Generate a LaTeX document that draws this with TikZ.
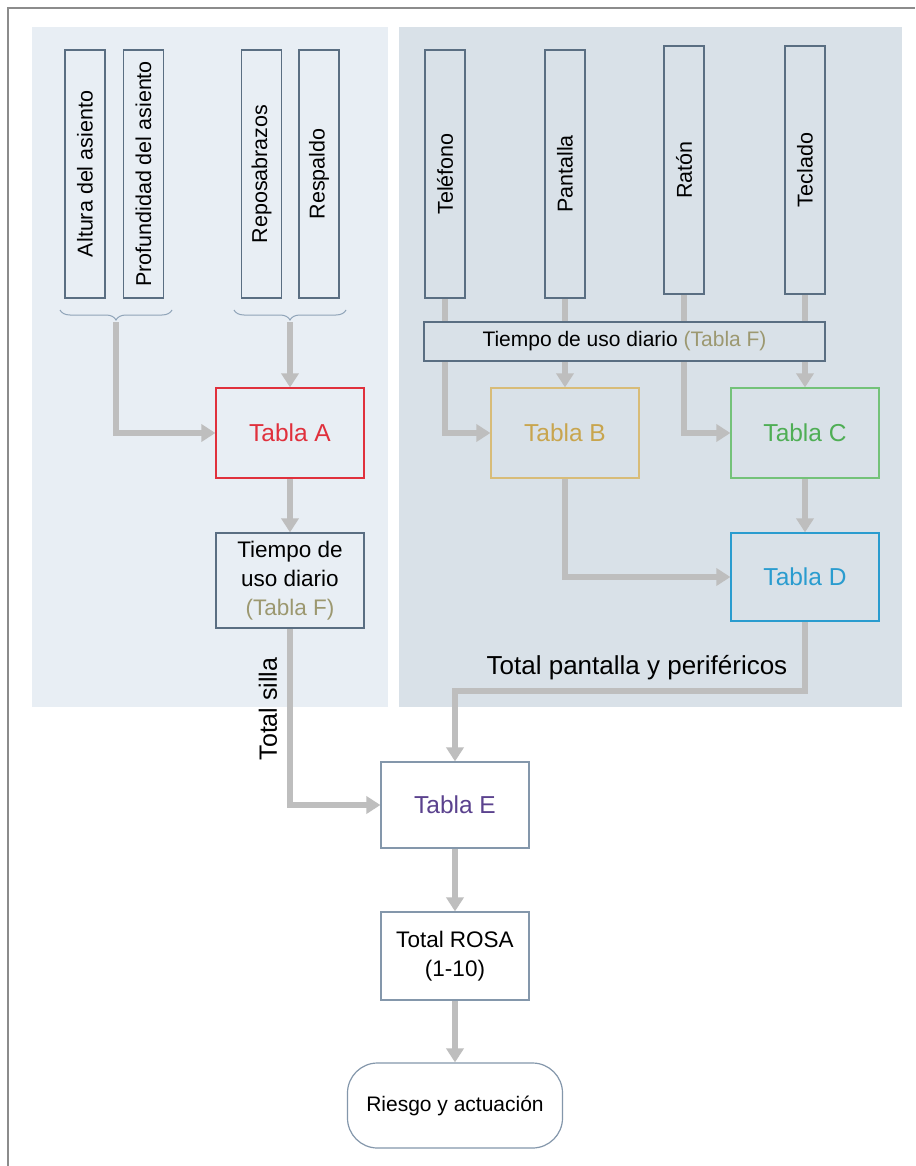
\documentclass[tikz,border=0pt]{standalone}
\usepackage{fontspec}
\setmainfont{Liberation Sans}
\usetikzlibrary{arrows.meta,decorations.pathreplacing,calc}
\pgfdeclarelayer{panel}
\pgfdeclarelayer{conn}
\pgfsetlayers{panel,conn,main}
\definecolor{panelL}{HTML}{E8EEF4}
\definecolor{panelR}{HTML}{D9E1E8}
\definecolor{boxline}{HTML}{5A6E82}
\definecolor{arrowgray}{HTML}{BEBEBE}
\definecolor{redA}{HTML}{E0303C}
\definecolor{goldB}{HTML}{C8A54E}
\definecolor{goldBline}{HTML}{D8BC78}
\definecolor{greenC}{HTML}{4FAE55}
\definecolor{greenCline}{HTML}{74C279}
\definecolor{blueD}{HTML}{2A9CCF}
\definecolor{purpleE}{HTML}{5B428E}
\definecolor{oliveF}{HTML}{9C9870}
\definecolor{softline}{HTML}{8497AB}
\definecolor{bracecol}{HTML}{8FA4B8}
\tikzset{
  x=1pt, y=-1pt,
  vbox/.style={draw=boxline, line width=1.2pt, minimum width=40pt, minimum height=248pt, inner sep=0pt},
  vlabel/.style={rotate=90, font=\fontsize{21.5}{24}\selectfont},
  tbox/.style={line width=1.2pt, minimum width=148pt, minimum height=90pt, inner sep=0pt, font=\fontsize{24.5}{28}\selectfont},
  conn/.style={draw=arrowgray, line width=5.5pt},
  arr/.style={conn, -{Triangle[width=17pt,length=14pt]}},
  bracestyle/.style={draw=bracecol, line width=1pt, decorate, decoration={brace, mirror, amplitude=10pt}},
}
\begin{document}
\begin{tikzpicture}
\useasboundingbox (0,0) rectangle (915,1166);
% panels
\begin{pgfonlayer}{panel}
\fill[white] (0,0) rectangle (915,1166);
\fill[panelL] (32,27) rectangle (388,707);
\fill[panelR] (399,27) rectangle (902,707);
\end{pgfonlayer}
% frame
\draw[color=gray!90, line width=1.8pt] (8,1166) -- (8,8) -- (915,8);

% left vertical boxes
\node[vbox, fill=panelL] (alt) at (85,174) {};
\node[vlabel] at (alt.center) {Altura del asiento};
\node[vbox, fill=panelL] (prof) at (143.5,174) {};
\node[vlabel] at (prof.center) {Profundidad del asiento};
\node[vbox, fill=panelL] (repo) at (261.5,174) {};
\node[vlabel] at (repo.center) {Reposabrazos};
\node[vbox, fill=panelL] (resp) at (319,174) {};
\node[vlabel] at (resp.center) {Respaldo};

% right vertical boxes
\node[vbox, fill=panelR] (tel) at (445,174) {};
\node[vlabel] at (tel.center) {Teléfono};
\node[vbox, fill=panelR] (pan) at (565,174) {};
\node[vlabel] at (pan.center) {Pantalla};
\node[vbox, fill=panelR] (rat) at (684,170) {};
\node[vlabel] at (rat.center) {Ratón};
\node[vbox, fill=panelR] (tec) at (805,170) {};
\node[vlabel] at (tec.center) {Teclado};

% bar
\node[draw=boxline, fill=panelR, line width=1.2pt, minimum width=401pt, minimum height=39pt, inner sep=0pt,
      font=\fontsize{21}{24}\selectfont] (bar) at (624.5,341.5) {Tiempo de uso diario \textcolor{oliveF}{(Tabla F)}};

% braces
\coordinate (br1a) at (60,310);
\coordinate (br1b) at (172,310);
\coordinate (br2a) at (234,310);
\coordinate (br2b) at (346,310);
\draw[bracestyle] (br1a) -- (br1b);
\draw[bracestyle] (br2a) -- (br2b);
\coordinate (tip1) at ($(br1a)!0.5!(br1b)+(0,12)$);
\coordinate (tip2) at ($(br2a)!0.5!(br2b)+(0,12)$);

% table boxes
\node[tbox, draw=redA, fill=panelL, text=redA] (ta) at (290,433) {Tabla A};
\node[tbox, draw=goldBline, fill=panelR, text=goldB] (tb) at (565,433) {Tabla B};
\node[tbox, draw=greenCline, fill=panelR, text=greenC] (tc) at (805,433) {Tabla C};
\node[tbox, draw=blueD, fill=panelR, text=blueD, minimum height=88pt] (td) at (805,577) {Tabla D};
\node[draw=boxline, fill=panelL, line width=1.2pt, minimum width=148pt, minimum height=95pt, inner sep=0pt, align=center,
      font=\fontsize{22.5}{29}\selectfont] (tf) at (290,580.5) {Tiempo de\\uso diario\\\textcolor{oliveF}{(Tabla F)}};
\node[tbox, draw=softline, fill=white, text=purpleE, minimum height=86pt] (te) at (455,805) {Tabla E};
\node[draw=softline, fill=white, line width=1.2pt, minimum width=148pt, minimum height=88pt, inner sep=0pt, align=center,
      font=\fontsize{22.5}{29}\selectfont] (rosa) at (455,956) {Total ROSA\\(1-10)};
\node[draw=softline, fill=white, line width=1.2pt, minimum width=215pt, minimum height=85pt, inner sep=0pt,
      rounded corners=30pt, font=\fontsize{21}{24}\selectfont] (riesgo) at (455,1105.5) {Riesgo y actuación};

% labels
\node[rotate=90, font=\fontsize{25}{28}\selectfont] (lsilla) at (268,709) {Total silla};
\node[font=\fontsize{26}{30}\selectfont] (lpant) at (637,668) {Total pantalla y periféricos};

% connectors
\begin{pgfonlayer}{conn}
\draw[arr] (tip1) |- (ta.west);
\draw[arr] (tip2) -- (tip2 |- ta.north);
\draw[arr] (ta.south) -- (tf.north);
\draw[arr] (tf.south) |- (te.west);
% right side
\draw[conn] (tel.south) -- (tel.south |- bar.north);
\draw[conn] (pan.south) -- (pan.south |- bar.north);
\draw[conn] (rat.south) -- (rat.south |- bar.north);
\draw[conn] (tec.south) -- (tec.south |- bar.north);
\draw[arr] (tel.south |- bar.south) |- (tb.west);
\draw[arr] (pan.south |- bar.south) -- (tb.north);
\draw[arr] (rat.south |- bar.south) |- (tc.west);
\draw[arr] (tec.south |- bar.south) -- (tc.north);
\draw[arr] (tc.south) -- (td.north);
\draw[arr] (tb.south) |- (td.west);
\coordinate (jd) at (805,691);
\draw[arr] (td.south) -- (jd) -| (te.north);
\draw[arr] (te.south) -- (rosa.north);
\draw[arr] (rosa.south) -- (riesgo.north);
\end{pgfonlayer}
\end{tikzpicture}
\end{document}
